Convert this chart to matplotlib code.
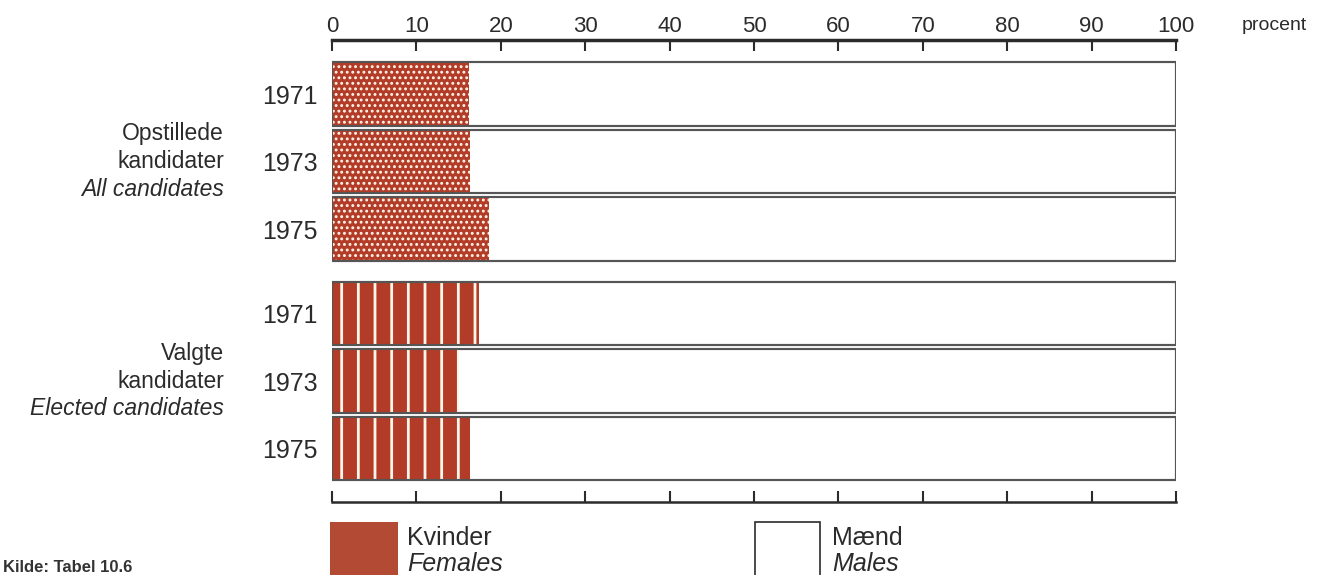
import numpy as np
import matplotlib
matplotlib.use('Agg')
import matplotlib.pyplot as plt
from matplotlib.patches import Rectangle

# data (percent women)
years=['1971','1973','1975']
all_candidates=[16.2,16.4,18.6]
elected_candidates=[17.4,15.0,16.4]
groups=[['Opstillede','kandidater','All candidates'],['Valgte','kandidater','Elected candidates']]
xticks=list(range(0,101,10))

red='#b23c28'
ink='#2b2b2b'
plt.rcParams['font.family']=['Liberation Sans','DejaVu Sans']

W,H=1317,575
fig=plt.figure(figsize=(W/100,H/100),dpi=100)
ax=fig.add_axes([332/W,(H-502)/H,844/W,462/H])

gap=0.25
pos1=np.arange(len(years))
pos2=np.arange(len(years))+len(years)+gap
hgt=0.94

def draw_group(pos,vals,hatch,hlw):
	# full width box (men) then women part on top
	ax.barh(pos,[100]*len(pos),height=hgt,left=0,color='white',edgecolor='#555555',linewidth=1.5,zorder=1)
	bars=ax.barh(pos,vals,height=hgt,left=0,color=red,edgecolor='#fff6ea',linewidth=0,hatch=hatch,zorder=2)
	for b in bars:
		if hasattr(b,'set_hatch_linewidth'):
			b.set_hatch_linewidth(hlw)
	ax.barh(pos,[100]*len(pos),height=hgt,left=0,color='none',edgecolor='#555555',linewidth=1.5,zorder=3)

plt.rcParams['hatch.linewidth']=1.3
draw_group(pos1,all_candidates,'...',1.3)
plt.rcParams['hatch.linewidth']=2.0
draw_group(pos2,elected_candidates,'|',2.0)

ax.set_xlim(0,100)
ax.set_ylim(6.04,-0.8)
ax.set_yticks(list(pos1)+list(pos2))
ax.set_yticklabels(years+years,fontsize=18,color=ink)
ax.tick_params(axis='y',length=0,pad=10)

ax.xaxis.tick_top()
ax.set_xticks(xticks)
ax.set_xticklabels([str(t) for t in xticks],fontsize=16,color=ink)
ax.tick_params(axis='x',which='both',direction='in',length=8,width=1.5,color=ink,pad=2,top=True,bottom=True)
ax.spines['left'].set_visible(False)
ax.spines['right'].set_visible(False)
ax.spines['top'].set_linewidth(2.5)
ax.spines['top'].set_color(ink)
ax.spines['bottom'].set_linewidth(1.8)
ax.spines['bottom'].set_color(ink)

fig.text(1242/W,(H-26)/H,'procent',ha='left',va='center',fontsize=14,color=ink)

# group labels
tr=ax.get_yaxis_transform()
for lab,pos in zip(groups,[pos1,pos2]):
	c=pos[1]
	for k,(s,off) in enumerate(zip(lab,[20,0,-20])):
		ax.annotate(s,xy=(-108/844,c),xycoords=tr,xytext=(0,off),textcoords='offset points',
			ha='right',va='center',fontsize=16.5,color=ink,style='italic' if k==2 else 'normal',annotation_clip=False)

# legend
fig.patches.append(Rectangle((330/W,0),68/W,(H-522)/H,transform=fig.transFigure,facecolor='#b34a34',edgecolor='none'))
fig.patches.append(Rectangle((755/W,-0.01),65/W,(H-522)/H+0.01,transform=fig.transFigure,facecolor='white',edgecolor=ink,linewidth=1.2))
fig.text(407/W,(H-538)/H,'Kvinder',fontsize=18,color=ink,va='center',ha='left')
fig.text(407/W,(H-564)/H,'Females',fontsize=18,color=ink,va='center',ha='left',style='italic')
fig.text(832/W,(H-538)/H,'Mænd',fontsize=18,color=ink,va='center',ha='left')
fig.text(832/W,(H-564)/H,'Males',fontsize=18,color=ink,va='center',ha='left',style='italic')

fig.text(3/W,(H-567)/H,'Kilde: Tabel 10.6',fontsize=12,color='#333333',va='center',ha='left',weight='bold')

fig.savefig('out.png',dpi=100)
